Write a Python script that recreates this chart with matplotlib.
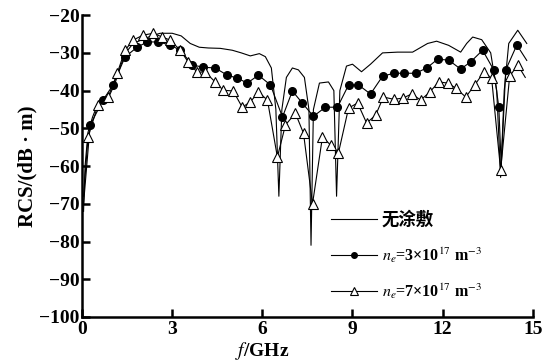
import matplotlib
matplotlib.use("Agg")
import matplotlib.pyplot as plt

plt.rcParams['font.family'] = ['Liberation Serif', 'Noto Sans CJK SC']
plt.rcParams['mathtext.fontset'] = 'stix'

# no coating (solid line)
bare_f = [0.05, 0.1, 0.2, 0.35, 0.5, 0.7, 0.9, 1.1, 1.3, 1.5, 1.7, 2.0, 2.3, 2.6,
          3.0, 3.3, 3.6, 3.9, 4.2, 4.6, 5.0, 5.3, 5.6, 5.9, 6.1, 6.3, 6.45, 6.55,
          6.65, 6.8, 7.0, 7.2, 7.4, 7.55, 7.62, 7.7, 7.9, 8.2, 8.38, 8.47, 8.58,
          8.8, 9.0, 9.3, 9.6, 10.0, 10.5, 11.0, 11.5, 11.8, 12.2, 12.6, 12.8, 13.0,
          13.3, 13.6, 13.8, 13.93, 14.05, 14.2, 14.5, 14.8]
bare_rcs = [-72, -60, -51, -47, -44, -42.5, -41.5, -38, -33, -29.5, -27.5, -26.5, -25.5, -24.8,
            -24.8, -25.5, -27.5, -28.5, -28.7, -28.8, -29.3, -30, -30.8, -30.2, -31, -34, -45, -68,
            -45, -36.5, -34, -34.5, -36.5, -45, -81, -45, -38, -37.7, -40, -68, -40,
            -33.5, -33, -35, -33, -30, -29.8, -29.8, -27.5, -26.9, -28, -29.8, -27.5, -25.8,
            -26.5, -30, -40, -63, -40, -27.5, -24, -27.5]

# n_e = 3e17 m^-3 (filled dots)
ne3_f = [0.27, 0.7, 1.03, 1.43, 1.83, 2.17, 2.53, 2.93, 3.27, 3.67, 4.03, 4.43, 4.83,
         5.17, 5.5, 5.87, 6.27, 6.67, 7.0, 7.33, 7.7, 8.1, 8.5, 8.87, 9.2, 9.6, 10.0,
         10.37, 10.7, 11.1, 11.47, 11.83, 12.2, 12.6, 12.93, 13.33, 13.7, 13.87, 14.1,
         14.47]
ne3_rcs = [-49.1, -42.5, -38.5, -31.1, -28.5, -27.1, -27.1, -27.9, -29.3, -33.2, -33.8,
           -34.0, -35.9, -36.7, -38.0, -35.9, -38.5, -47.0, -40.1, -43.3, -46.8, -44.4,
           -44.4, -38.5, -38.5, -40.9, -36.2, -35.4, -35.4, -35.4, -34.0, -31.7, -31.9,
           -34.3, -32.4, -29.3, -34.5, -44.4, -34.5, -27.9]
ne3_dip_f = [0.05, 13.95, 14.8]
ne3_dip_rcs = [-70, -60, -32]

# n_e = 7e17 m^-3 (open triangles)
ne7_f = [0.2, 0.53, 0.87, 1.17, 1.43, 1.7, 2.03, 2.37, 2.67, 2.93, 3.27, 3.53, 3.83,
         4.1, 4.43, 4.7, 5.03, 5.33, 5.6, 5.87, 6.17, 6.5, 6.77, 7.1, 7.37, 7.67, 8.0,
         8.27, 8.53, 8.87, 9.17, 9.47, 9.77, 10.03, 10.37, 10.67, 10.97, 11.27, 11.57,
         11.87, 12.17, 12.43, 12.77, 13.07, 13.37, 13.63, 13.93, 14.23, 14.5]
ne7_rcs = [-52.3, -43.8, -41.7, -35.4, -29.3, -26.6, -25.3, -24.8, -25.8, -26.6, -29.3,
           -32.4, -35.1, -35.1, -37.7, -39.9, -40.1, -44.4, -43.0, -40.4, -42.5, -57.6,
           -49.1, -46.0, -51.3, -70.0, -52.3, -54.4, -56.6, -44.6, -43.3, -48.6, -46.5,
           -41.7, -42.3, -42.0, -40.9, -42.5, -40.4, -37.7, -38.0, -39.3, -41.7, -38.5,
           -35.1, -36.7, -61.1, -36.2, -33.2]
ne7_dip_f = [0.05, 14.75]
ne7_dip_rcs = [-68, -36.5]

labels = ['无涂敷', r'$n_e$=3×10$^{17}$ m$^{-3}$', r'$n_e$=7×10$^{17}$ m$^{-3}$']


def merged(f, v, f2, v2):
    pts = sorted(zip(list(f) + list(f2), list(v) + list(v2)))
    return [p[0] for p in pts], [p[1] for p in pts]


fig = plt.figure(figsize=(5.47, 3.61), dpi=100)
ax = fig.add_axes([0.15, 0.122, 0.824, 0.836])

ax.plot(bare_f, bare_rcs, color='black', lw=0.8, label=labels[0])

lf, lv = merged(ne3_f, ne3_rcs, ne3_dip_f, ne3_dip_rcs)
ax.plot(lf, lv, color='black', lw=0.8)
ax.plot(ne3_f, ne3_rcs, ls='none', marker='o', ms=5.5, color='black')
ax.plot([], [], color='black', lw=0.8, marker='o', ms=4, label=labels[1])

lf, lv = merged(ne7_f, ne7_rcs, ne7_dip_f, ne7_dip_rcs)
ax.plot(lf, lv, color='black', lw=0.8)
ax.plot(ne7_f, ne7_rcs, ls='none', marker='^', ms=7.5, mfc='white', mec='black', mew=0.8)
ax.plot([], [], color='black', lw=0.8, marker='^', ms=6, mfc='white', mec='black',
        mew=0.8, label=labels[2])

ax.set_xlim(0, 15)
ax.set_ylim(-100, -20)
ax.set_xticks([0, 3, 6, 9, 12, 15])
ax.set_yticks(range(-100, -19, 10))
for s in ['top', 'right']:
    ax.spines[s].set_visible(False)
for s in ['left', 'bottom']:
    ax.spines[s].set_linewidth(1.8)
ax.tick_params(direction='in', length=6, width=1.8, labelsize=14, pad=2)
ax.tick_params(axis='x', pad=3)
for t in ax.get_xticklabels() + ax.get_yticklabels():
    t.set_fontweight('bold')

ax.set_ylabel('RCS/(dB · m)', fontsize=15, fontweight='bold', labelpad=1)
ax.set_xlabel(r'$\mathbf{\mathit{f}}$/GHz', fontsize=14, fontweight='bold', labelpad=-1)
ax.xaxis.set_label_coords(0.40, -0.075)

leg = ax.legend(loc='lower left', bbox_to_anchor=(0.52, 0.005), frameon=False,
                handlelength=2.9, labelspacing=1.05, handletextpad=0.3,
                prop={'size': 11.5, 'weight': 'bold'})
leg.get_texts()[0].set_fontsize(12.5)

fig.savefig('out.png', dpi=100)
